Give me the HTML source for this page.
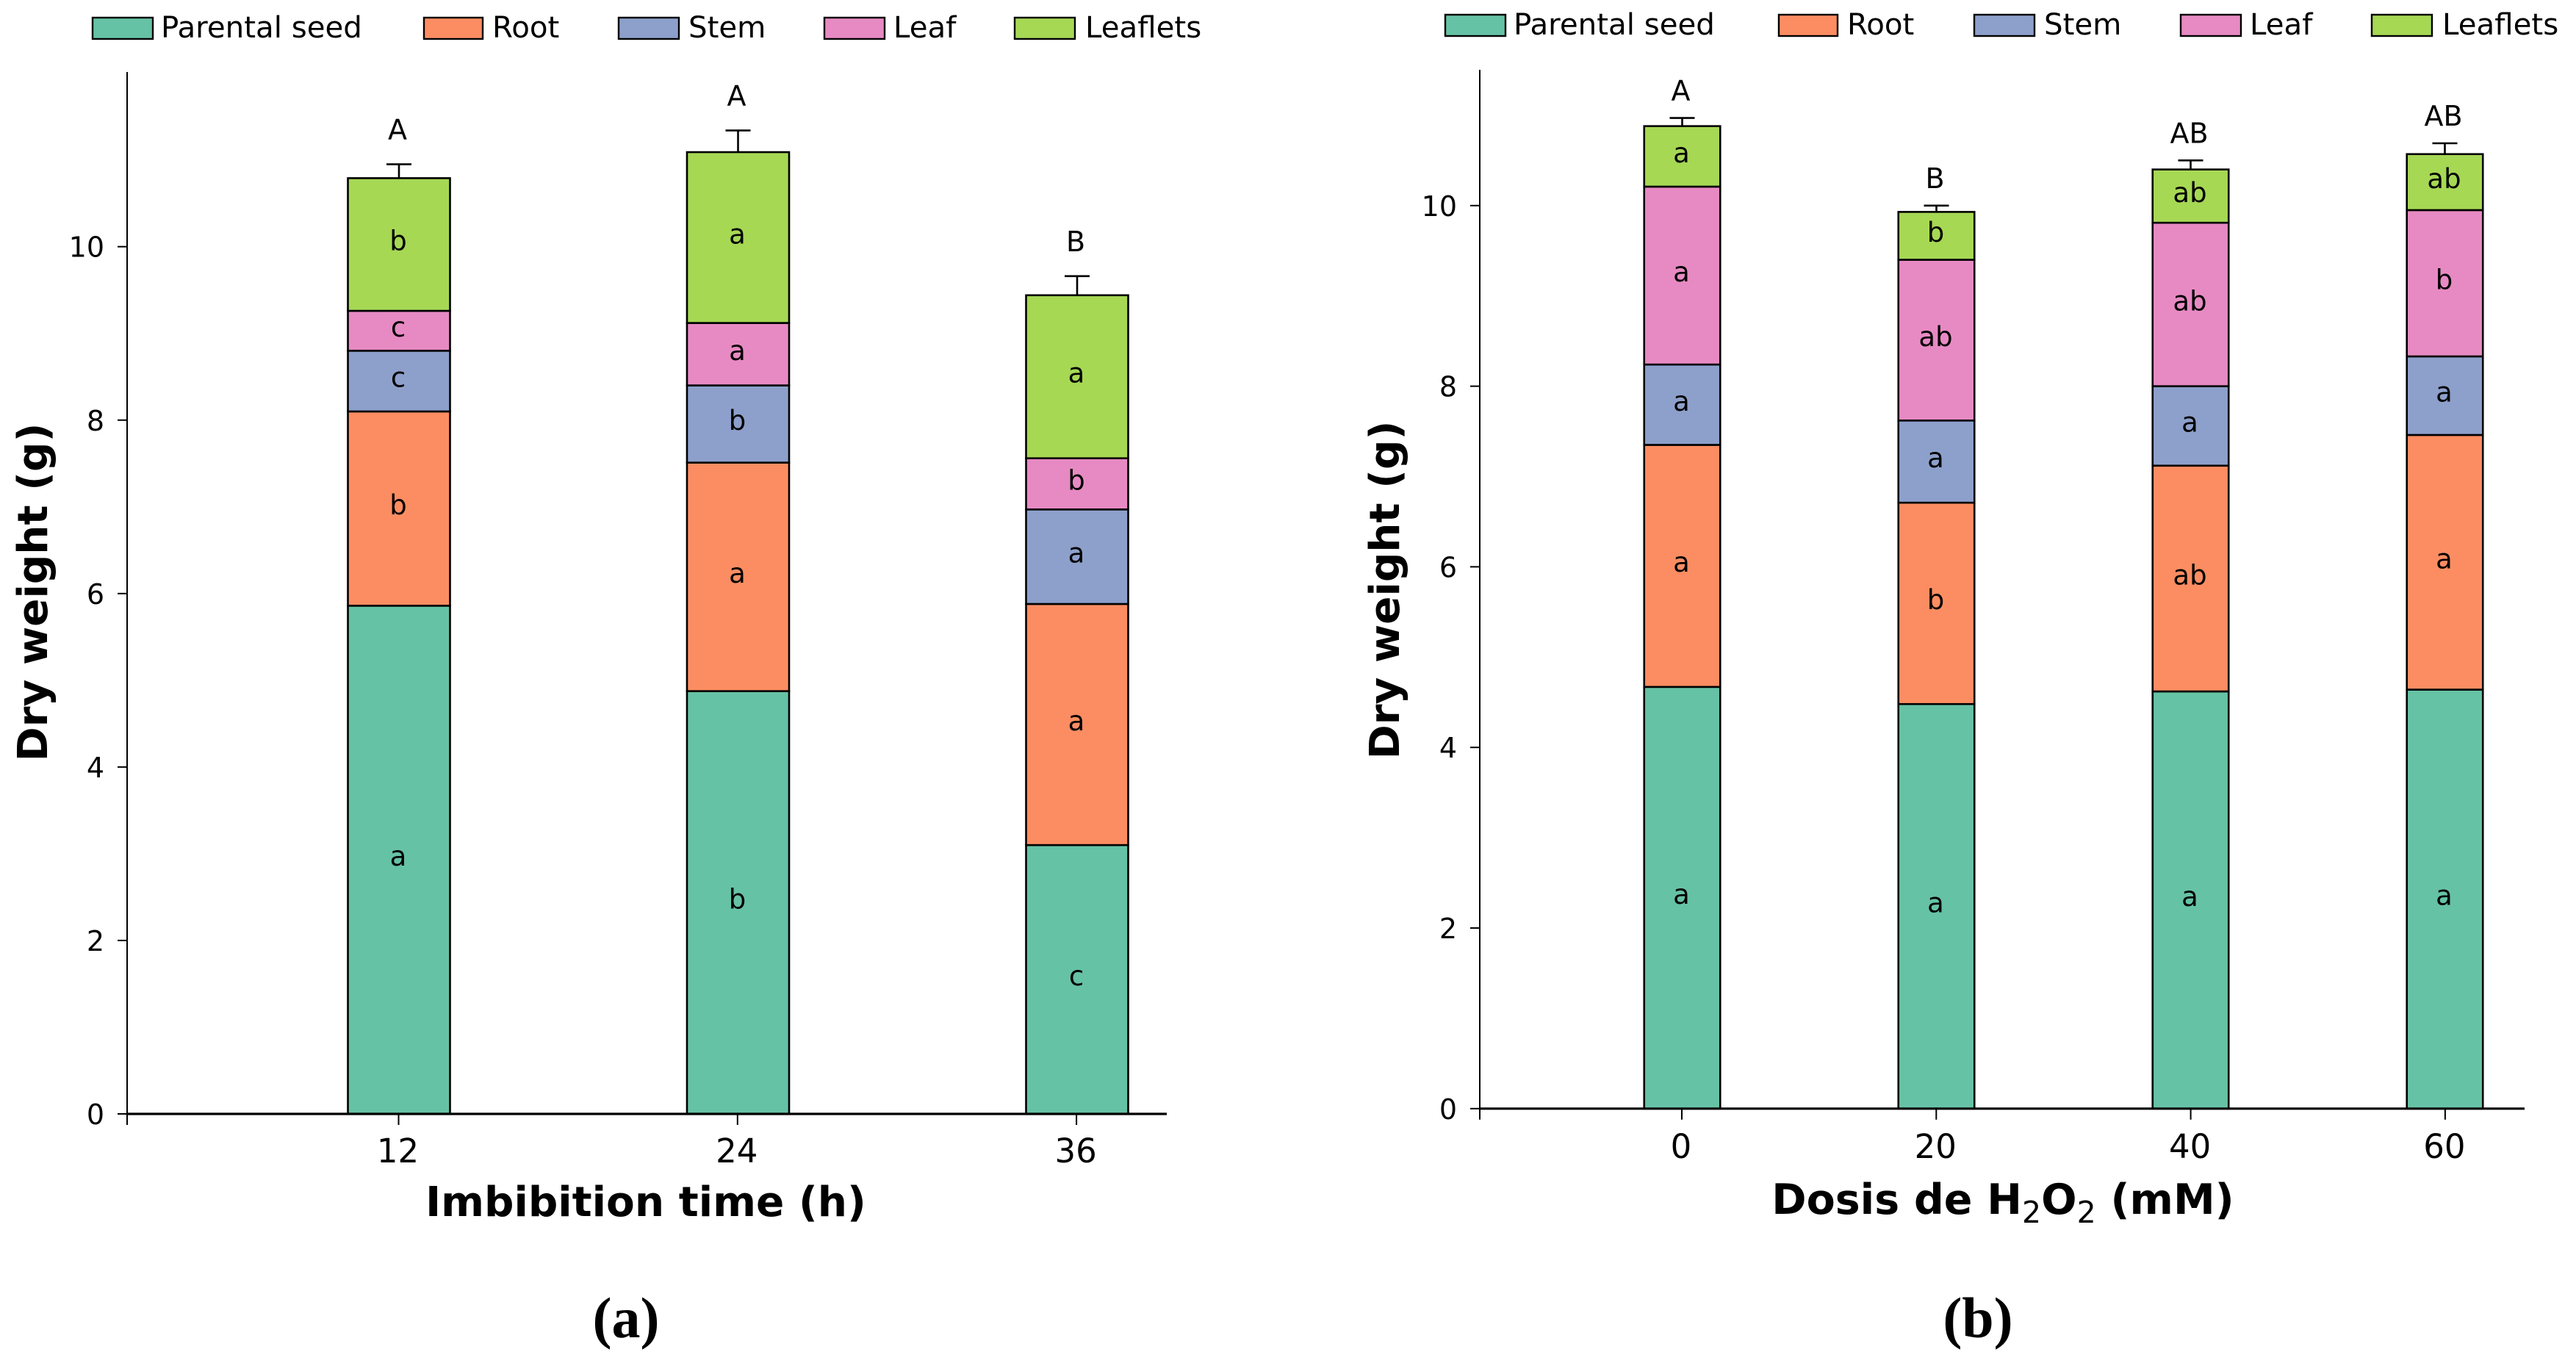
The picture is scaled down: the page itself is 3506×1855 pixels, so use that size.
<!DOCTYPE html>
<html lang="en">
<head>
<meta charset="utf-8">
<title>Dry weight by imbibition time and H2O2 dose</title>
<style>
html,body{margin:0;padding:0;background:#fff;}
#figure{display:block;width:3506px;height:1855px;background:#fff;}
text{font-family:"DejaVu Sans","Liberation Sans",sans-serif;fill:#000;}
.panel{font-family:"Liberation Serif",serif;font-weight:bold;font-size:78px;}
.axt{font-weight:bold;}
</style>
</head>
<body>
<svg id="figure" xmlns="http://www.w3.org/2000/svg" width="3506" height="1855" viewBox="0 0 3506 1855">
  <g id="chart-a"></g>
  <g id="chart-b"></g>
  <text class="axt" x="879" y="1655" font-size="56.5" text-anchor="middle">Imbibition time (h)</text>
  <text class="axt" transform="translate(64,806) rotate(-90)" font-size="56.5" text-anchor="middle">Dry weight (g)</text>
  <text class="axt" x="2726" y="1652" font-size="57" text-anchor="middle">Dosis de H<tspan dy="12" font-size="41" font-weight="normal">2</tspan><tspan dy="-12">O</tspan><tspan dy="12" font-size="41" font-weight="normal">2</tspan><tspan dy="-12"> (mM)</tspan></text>
  <text class="axt" transform="translate(1904,803) rotate(-90)" font-size="56.5" text-anchor="middle">Dry weight (g)</text>
  <text class="panel" x="852" y="1820" text-anchor="middle">(a)</text>
  <text class="panel" x="2692" y="1820" text-anchor="middle">(b)</text>
</svg>
<script>
// Shared legend and tick data
const seriesNames = ['Parental seed', 'Root', 'Stem', 'Leaf', 'Leaflets'];
const yTickValues = [0, 2, 4, 6, 8, 10];

// Chart (a): imbibition time
const aCategories = ['12', '24', '36'];
const aSeed = [5.86, 4.875, 3.10];
const aRoot = [2.24, 2.635, 2.78];
const aStem = [0.70, 0.89, 1.09];
const aLeaf = [0.46, 0.72, 0.59];
const aLeaflets = [1.53, 1.97, 1.88];
const aError = [0.16, 0.25, 0.22];
const aSeedLetters = ['a', 'b', 'c'];
const aRootLetters = ['b', 'a', 'a'];
const aStemLetters = ['c', 'b', 'a'];
const aLeafLetters = ['c', 'a', 'b'];
const aLeafletsLetters = ['b', 'a', 'a'];
const aTotalLetters = ['A', 'A', 'B'];

// Chart (b): H2O2 dose
const bCategories = ['0', '20', '40', '60'];
const bSeed = [4.67, 4.48, 4.62, 4.64];
const bRoot = [2.68, 2.23, 2.50, 2.82];
const bStem = [0.89, 0.91, 0.88, 0.87];
const bLeaf = [1.97, 1.78, 1.81, 1.62];
const bLeaflets = [0.67, 0.53, 0.59, 0.62];
const bError = [0.09, 0.07, 0.10, 0.12];
const bSeedLetters = ['a', 'a', 'a', 'a'];
const bRootLetters = ['a', 'b', 'ab', 'a'];
const bStemLetters = ['a', 'a', 'a', 'a'];
const bLeafLetters = ['a', 'ab', 'ab', 'b'];
const bLeafletsLetters = ['a', 'b', 'ab', 'ab'];
const bTotalLetters = ['A', 'B', 'AB', 'AB'];

const palette = ['#66c2a5', '#fc8d62', '#8da0cb', '#e78ac3', '#a6d854'];
const NS = 'http://www.w3.org/2000/svg';

function mk(parent, tag, attrs, content) {
  const node = document.createElementNS(NS, tag);
  Object.keys(attrs).forEach(function (k) { node.setAttribute(k, attrs[k]); });
  if (content !== undefined) node.textContent = content;
  parent.appendChild(node);
  return node;
}

function drawChart(root, prefix, cfg, categories, stacks, letters, errors, totals) {
  const yScale = function (v) { return cfg.y0 - v * cfg.unit; };
  const xScale = function (i) { return cfg.x0 + i * cfg.step; };
  const tickX = function (i) { return cfg.tick0 + i * cfg.tickStep; };

  categories.forEach(function (cat, i) {
    let cumulative = 0;
    stacks.forEach(function (values, s) {
      const bottom = cumulative;
      const top = cumulative + values[i];
      cumulative = top;
      const seg = mk(root, 'rect', {
        x: xScale(i) - cfg.barW / 2,
        y: yScale(top),
        width: cfg.barW,
        height: yScale(bottom) - yScale(top),
        fill: palette[s], stroke: '#000', 'stroke-width': 2.6
      });
      
      
    });
    stacks.forEach(function (values, s) {
      const bottom = stacks.slice(0, s).reduce(function (sum, arr) { return sum + arr[i]; }, 0);
      const centre = yScale(bottom + values[i] / 2);
      const label = mk(root, 'text', {
        x: xScale(i) - 1, y: centre + 8, 'font-size': 37, 'text-anchor': 'middle'
      }, letters[s][i]);
      
      
    });
    const errTop = yScale(cumulative + errors[i]);
    const stem = mk(root, 'line', {
      x1: xScale(i), x2: xScale(i), y1: yScale(cumulative), y2: errTop,
      stroke: '#000', 'stroke-width': 2.6
    });
    
    
    const cap = mk(root, 'line', {
      x1: xScale(i) - 17, x2: xScale(i) + 17, y1: errTop, y2: errTop,
      stroke: '#000', 'stroke-width': 2.6
    });
    
    
    const total = mk(root, 'text', {
      x: xScale(i) - 2, y: errTop - cfg.totalGap + 13, 'font-size': 38, 'text-anchor': 'middle'
    }, totals[i]);
    
    

    const xTick = mk(root, 'line', {
      x1: tickX(i), x2: tickX(i), y1: cfg.y0, y2: cfg.y0 + 15, stroke: '#000', 'stroke-width': 2
    });
    
    
    const xLabel = mk(root, 'text', {
      x: tickX(i) - 1, y: cfg.xLabelY, 'font-size': 45, 'text-anchor': 'middle'
    }, cat);
    
    
  });

  yTickValues.forEach(function (v) {
    const tick = mk(root, 'line', {
      x1: cfg.axisX - 13, x2: cfg.axisX, y1: yScale(v), y2: yScale(v), stroke: '#000', 'stroke-width': 2
    });
    
    
    const label = mk(root, 'text', {
      x: cfg.axisX - 31, y: yScale(v) + 14, 'font-size': 38, 'text-anchor': 'end'
    }, String(v));
    
    
  });

  const ySpine = mk(root, 'line', {
    x1: cfg.axisX, x2: cfg.axisX, y1: cfg.axisTop, y2: cfg.y0 + 15, stroke: '#000', 'stroke-width': 2
  });
  
  
  const xSpine = mk(root, 'line', {
    x1: cfg.axisX, x2: cfg.axisRight, y1: cfg.y0, y2: cfg.y0, stroke: '#000', 'stroke-width': 3.2
  });
  
  

  seriesNames.forEach(function (name, s) {
    const hx = cfg.legendX + cfg.legendOffsets[s];
    const swatch = mk(root, 'rect', {
      x: hx, y: cfg.legendY, width: s === 1 ? 80 : 82, height: 29,
      fill: palette[s], stroke: '#000', 'stroke-width': 2.4
    });
    
    
    const text = mk(root, 'text', {
      x: hx + (s === 0 ? 93 : (s === 1 ? 93 : (s === 2 ? 95 : (s === 3 ? 94 : 96)))),
      y: cfg.legendY + 27, 'font-size': 40.3
    }, name);
    
    
  });
}

drawChart(document.getElementById('chart-a'), 'a', {
  y0: 1516, unit: 118.03, x0: 543, step: 461.5, barW: 139,
  tick0: 542.5, tickStep: 461.3, axisX: 173, axisTop: 98, axisRight: 1588,
  xLabelY: 1582, totalGap: 47, legendX: 126, legendY: 24,
  legendOffsets: [0, 451, 716, 996, 1255]
}, aCategories, [aSeed, aRoot, aStem, aLeaf, aLeaflets],
  [aSeedLetters, aRootLetters, aStemLetters, aLeafLetters, aLeafletsLetters], aError, aTotalLetters);

drawChart(document.getElementById('chart-b'), 'b', {
  y0: 1508.8, unit: 122.9, x0: 2289.5, step: 346, barW: 103.5,
  tick0: 2289, tickStep: 346.3, axisX: 2014, axisTop: 95, axisRight: 3436,
  xLabelY: 1576, totalGap: 37, legendX: 1967, legendY: 20,
  legendOffsets: [0, 454, 720, 1001, 1261]
}, bCategories, [bSeed, bRoot, bStem, bLeaf, bLeaflets],
  [bSeedLetters, bRootLetters, bStemLetters, bLeafLetters, bLeafletsLetters], bError, bTotalLetters);
</script>
</body>
</html>
